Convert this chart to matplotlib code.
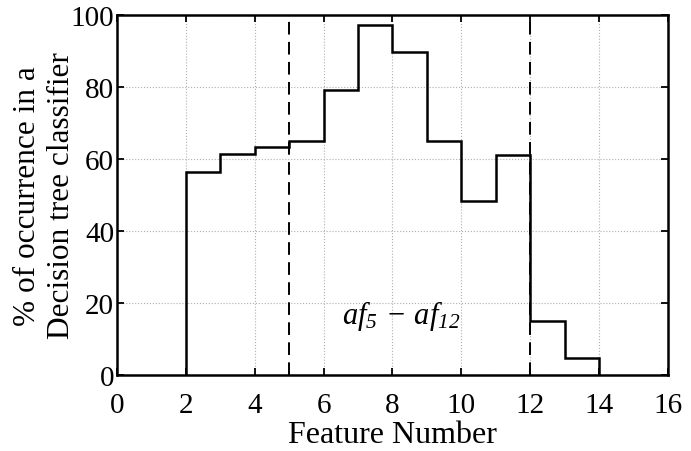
import matplotlib
matplotlib.use("Agg")
import matplotlib.pyplot as plt
import numpy as np

# Histogram of how often each feature is selected by the decision tree
bin_edges = [2, 3, 4, 5, 6, 7, 8, 9, 10, 11, 12, 13, 14]
occurrence = [56.3, 61.5, 63.2, 65.1, 79.3, 97.2, 89.8, 64.9, 48.4, 61.1, 15.1, 4.6]
range_bounds = [5, 12]
x_ticks = list(range(0, 17, 2))
y_ticks = list(range(0, 101, 20))

plt.rcParams['font.family'] = ['Liberation Serif', 'DejaVu Serif']
plt.rcParams['mathtext.fontset'] = 'custom'
plt.rcParams['mathtext.it'] = 'Liberation Serif:italic'
plt.rcParams['mathtext.rm'] = 'Liberation Serif:italic'

fig = plt.figure(figsize=(6.91, 4.52), dpi=100)
ax = fig.add_axes([0.1693, 0.1681, 0.7974, 0.7965])

ax.stairs(occurrence, bin_edges, baseline=0, fill=False, color='black', linewidth=1.8)

for xb in range_bounds:
    ax.axvline(xb, color='black', linewidth=1.4, dashes=(6.5, 3.8))

ax.text(8.25, 16.8, r'$af_{5}\,-\,af_{12}$', fontsize=22, ha='center', va='center')

ax.set_xlim(0, 16)
ax.set_ylim(0, 100)
ax.set_xticks(x_ticks)
ax.set_yticks(y_ticks)
ax.grid(True, linestyle=':', color='#b0b0b0', linewidth=0.8)
ax.set_axisbelow(True)

ax.tick_params(direction='in', top=True, right=True, length=5, width=1.3,
               labelsize=21)
ax.tick_params(axis='x', pad=12)
ax.tick_params(axis='y', pad=2)
for sp in ax.spines.values():
    sp.set_linewidth(1.8)

ax.set_xlabel('Feature Number', fontsize=23, labelpad=2)
ax.set_ylabel('% of occurrence in a\nDecision tree classifier', fontsize=22.5,
              labelpad=-4, linespacing=1.25)

fig.savefig('out.png', dpi=100)
